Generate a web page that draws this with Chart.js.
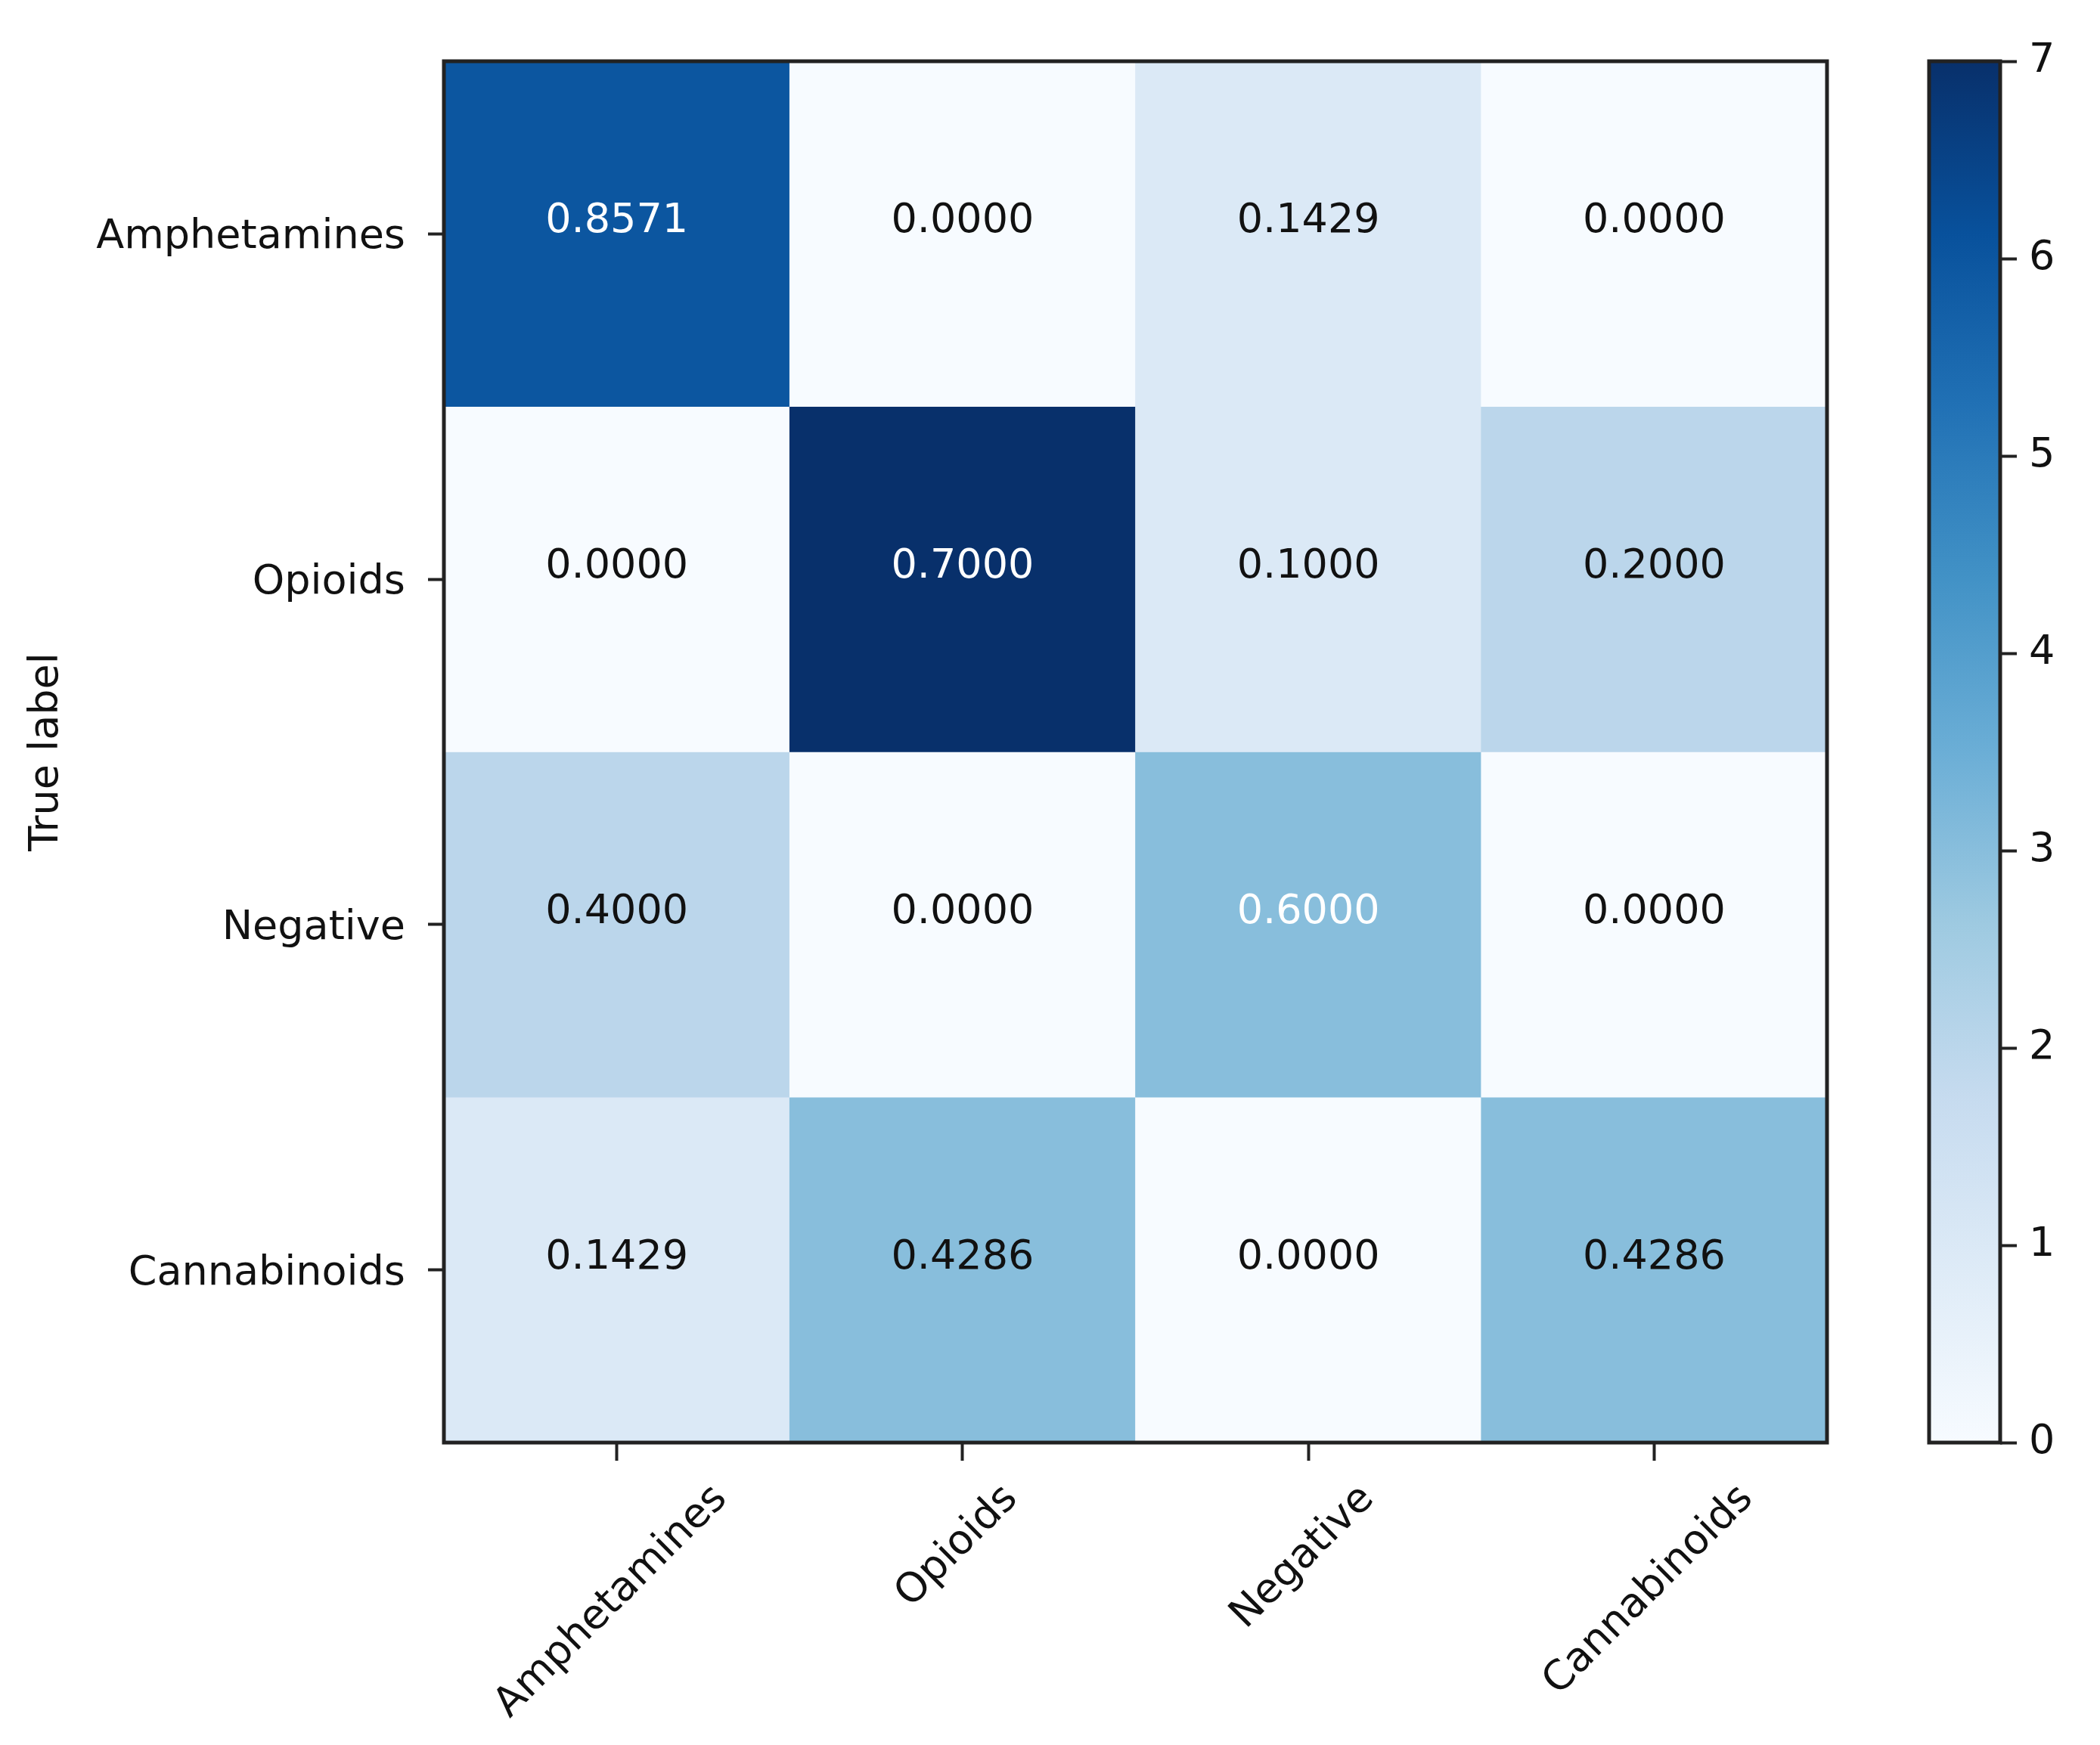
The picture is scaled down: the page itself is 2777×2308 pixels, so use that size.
<!DOCTYPE html>
<html>
<head>
<meta charset="utf-8">
<script src="https://cdn.jsdelivr.net/npm/chart.js@4.4.1/dist/chart.umd.min.js"></script>
<style>
  html, body { margin: 0; padding: 0; background: #fff; }
  #wrap { position: relative; width: 2777px; height: 2308px; }
  canvas { position: absolute; left: 0; top: 0; }
</style>
</head>
<body>
<div id="wrap">
  <canvas id="matrix" width="2777" height="2308"></canvas>
  <canvas id="colorbar" width="2777" height="2308"></canvas>
</div>
<script>
const classNames = ['Amphetamines', 'Opioids', 'Negative', 'Cannabinoids'];

// raw counts (drive the colour), rows = true label, cols = predicted
const counts = [
  [6, 0, 1, 0],
  [0, 7, 1, 2],
  [2, 0, 3, 0],
  [1, 3, 0, 3]
];

// normalised values printed in the cells
const rates = [
  [0.8571, 0.0000, 0.1429, 0.0000],
  [0.0000, 0.7000, 0.1000, 0.2000],
  [0.4000, 0.0000, 0.6000, 0.0000],
  [0.1429, 0.4286, 0.0000, 0.4286]
];

const colorbarMin = 0;
const colorbarMax = 7;
const colorbarTicks = [0, 1, 2, 3, 4, 5, 6, 7];

// matplotlib "Blues"
const blues = ['#f7fbff', '#deebf7', '#c6dbef', '#9ecae1', '#6baed6',
               '#4292c6', '#2171b5', '#08519c', '#08306b'];

const FONT = 'DejaVu Sans';
const FONT_SIZE = 54;
const INK = '#111';
const EDGE = '#222';

function hexToRgb(h) {
  return [1, 3, 5].map(i => parseInt(h.substr(i, 2), 16));
}

function bluesAt(t) {
  t = Math.max(0, Math.min(1, t));
  const pos = t * (blues.length - 1);
  const i = Math.min(Math.floor(pos), blues.length - 2);
  const f = pos - i;
  const a = hexToRgb(blues[i]);
  const b = hexToRgb(blues[i + 1]);
  const c = a.map((v, k) => Math.round(v + (b[k] - v) * f));
  return 'rgb(' + c.join(',') + ')';
}

// box round the plotting area
const frame = {
  id: 'frame',
  afterDatasetsDraw(chart) {
    const { ctx, chartArea } = chart;
    ctx.save();
    ctx.strokeStyle = EDGE;
    ctx.lineWidth = 5;
    ctx.strokeRect(chartArea.left, chartArea.top,
                   chartArea.right - chartArea.left, chartArea.bottom - chartArea.top);
    ctx.restore();
  }
};

const cellText = {
  id: 'cellText',
  afterDatasetsDraw(chart) {
    const ctx = chart.ctx;
    ctx.save();
    ctx.font = FONT_SIZE + 'px "' + FONT + '"';
    ctx.textAlign = 'center';
    ctx.textBaseline = 'alphabetic';
    chart.data.datasets.forEach((ds, r) => {
      chart.getDatasetMeta(r).data.forEach((el, c) => {
        const v = rates[r][c];
        const cy = (el.y + el.base) / 2;
        ctx.fillStyle = v > 0.5 ? '#ffffff' : INK;
        ctx.fillText(v.toFixed(4), el.x, cy - 2);
      });
    });
    ctx.restore();
  }
};

// x labels at 45 degrees, box centred on the tick and hanging from below it
const xLabels = {
  id: 'xLabels',
  afterDraw(chart) {
    const scale = chart.scales.x;
    const ctx = chart.ctx;
    const h = FONT_SIZE * 1.164;
    const top = scale.top + 44;
    ctx.save();
    ctx.font = FONT_SIZE + 'px "' + FONT + '"';
    ctx.fillStyle = INK;
    ctx.textAlign = 'center';
    ctx.textBaseline = 'middle';
    scale.ticks.forEach((t, i) => {
      const label = classNames[i];
      const w = ctx.measureText(label).width;
      const box = (w + h) * Math.SQRT1_2;
      ctx.save();
      ctx.translate(scale.getPixelForTick(i) - 7, top + box / 2);
      ctx.rotate(-Math.PI / 4);
      ctx.fillText(label, 0, 0);
      ctx.restore();
    });
    ctx.restore();
  }
};

const rowDatasets = classNames.map((name, r) => ({
  label: name,
  data: counts[r].map(() => [r - 0.5, r + 0.5]),
  backgroundColor: counts[r].map(n => bluesAt((n - colorbarMin) / (colorbarMax - colorbarMin))),
  borderWidth: 0,
  barPercentage: 1,
  categoryPercentage: 1,
  grouped: false
}));

new Chart(document.getElementById('matrix'), {
  type: 'bar',
  data: { labels: classNames, datasets: rowDatasets },
  options: {
    responsive: false,
    devicePixelRatio: 1,
    animation: false,
    layout: { padding: { left: 0, right: 361, top: 81, bottom: 0 } },
    plugins: { legend: { display: false }, tooltip: { enabled: false } },
    scales: {
      x: {
        grid: { offset: false, drawOnChartArea: false, tickLength: 24, tickWidth: 4, tickColor: EDGE },
        border: { display: false },
        ticks: {
          autoSkip: false,
          maxRotation: 0,
          callback: () => '',
          font: { family: FONT, size: FONT_SIZE }
        },
        afterFit(scale) { scale.height = 400; }
      },
      y: {
        min: -0.5,
        max: 3.5,
        reverse: true,
        afterBuildTicks(scale) { scale.ticks = classNames.map((_, i) => ({ value: i })); },
        grid: { drawOnChartArea: false, tickLength: 21, tickWidth: 4, tickColor: EDGE },
        border: { display: false },
        ticks: {
          padding: 30,
          labelOffset: 5,
          color: INK,
          font: { family: FONT, size: FONT_SIZE },
          callback: (v) => classNames[v]
        },
        title: {
          display: true,
          text: 'True label',
          color: INK,
          font: { family: FONT, size: FONT_SIZE },
          padding: { top: 30, bottom: 0 }
        },
        afterFit(scale) { scale.width = 587; }
      }
    }
  },
  plugins: [frame, cellText, xLabels]
});

// colour bar
new Chart(document.getElementById('colorbar'), {
  type: 'bar',
  data: {
    labels: [''],
    datasets: [{
      data: [[colorbarMin, colorbarMax]],
      backgroundColor(context) {
        const { chart } = context;
        const area = chart.chartArea;
        if (!area) return null;
        const g = chart.ctx.createLinearGradient(0, area.bottom, 0, area.top);
        blues.forEach((col, i) => g.addColorStop(i / (blues.length - 1), col));
        return g;
      },
      borderWidth: 0,
      barPercentage: 1,
      categoryPercentage: 1
    }]
  },
  options: {
    responsive: false,
    devicePixelRatio: 1,
    animation: false,
    layout: { padding: { left: 2551, right: 0, top: 81, bottom: 400 } },
    plugins: { legend: { display: false }, tooltip: { enabled: false } },
    scales: {
      x: { display: false },
      y: {
        position: 'right',
        min: colorbarMin,
        max: colorbarMax,
        afterBuildTicks(scale) { scale.ticks = colorbarTicks.map(v => ({ value: v })); },
        grid: { drawOnChartArea: false, tickLength: 22, tickWidth: 4, tickColor: EDGE },
        border: { display: false },
        ticks: {
          padding: 16,
          color: INK,
          font: { family: FONT, size: FONT_SIZE }
        },
        afterFit(scale) { scale.width = 132; }
      }
    }
  },
  plugins: [frame]
});
</script>
</body>
</html>
